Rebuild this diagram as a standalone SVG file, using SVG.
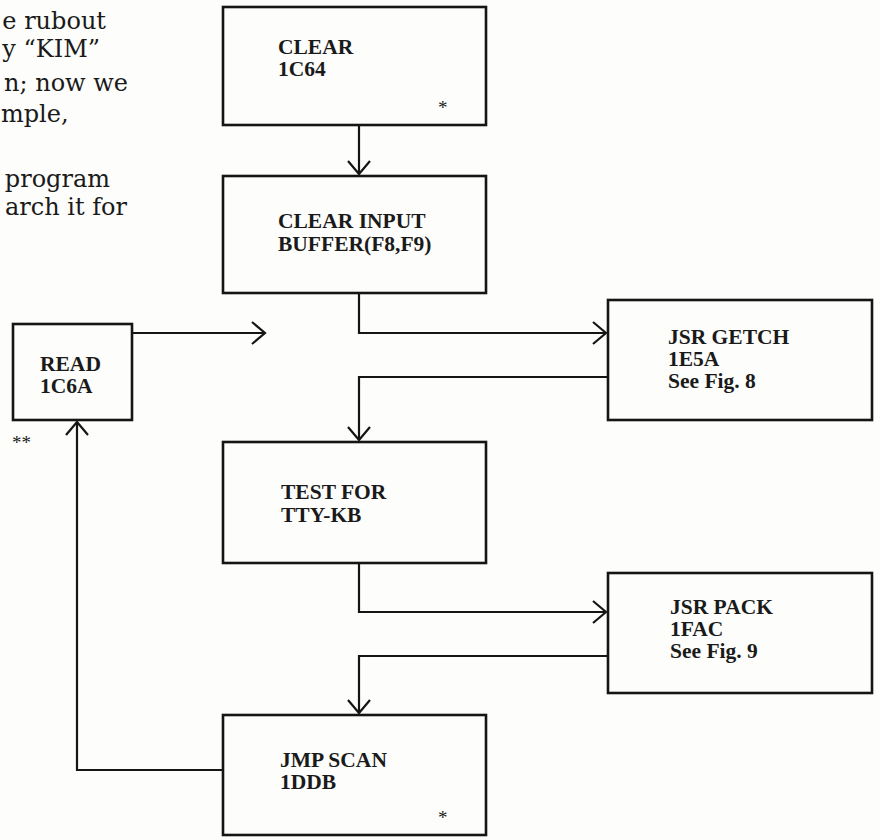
<svg xmlns="http://www.w3.org/2000/svg" width="880" height="840" viewBox="0 0 880 840">
<style>
.box{fill:none;stroke:#151515;stroke-width:2.6}
.lbl{font-family:"Liberation Serif","Times New Roman",serif;font-weight:bold;font-size:21.5px;fill:#1a1a1a}
.ast{font-family:"Liberation Serif","Times New Roman",serif;font-size:19px;fill:#1a1a1a}
.body{font-family:"DejaVu Serif","Liberation Serif",serif;font-size:24px;fill:#1a1a1a;text-anchor:end}
.con{fill:none;stroke:#151515;stroke-width:2.2}
</style>
<defs>
<marker id="arr" viewBox="-16 -14 20 28" refX="0" refY="0" markerWidth="20" markerHeight="28" markerUnits="userSpaceOnUse" orient="auto">
<path d="M-13,-11 L0,0 L-13,11" fill="none" stroke="#151515" stroke-width="2.2"/>
</marker>
</defs>
<rect width="880" height="840" fill="#fdfdfb"/>
<g id="page-text">
<text class="body" x="106" y="29">e rubout</text>
<text class="body" x="100" y="57">y “KIM”</text>
<text class="body" x="128" y="91">n; now we</text>
<text class="body" x="1" y="122" style="text-anchor:start">mple,</text>
<text class="body" x="110" y="187">program</text>
<text class="body" x="127" y="215">arch it for</text>
</g>
<g id="connectors">
<path class="con" d="M359,125 V174" marker-end="url(#arr)"/>
<path class="con" d="M359,293 V333 H606" marker-end="url(#arr)"/>
<path class="con" d="M132,333 H265" marker-end="url(#arr)"/>
<path class="con" d="M608,377 H359 V440" marker-end="url(#arr)"/>
<path class="con" d="M359,563 V612 H606" marker-end="url(#arr)"/>
<path class="con" d="M608,656 H359 V713" marker-end="url(#arr)"/>
<path class="con" d="M223,770 H77 V422" marker-end="url(#arr)"/>
</g>
<g id="clear">
<rect class="box" x="223" y="7" width="263" height="118"/>
<text class="lbl" x="278" y="54">CLEAR</text>
<text class="lbl" x="278" y="76">1C64</text>
<text class="ast" x="438" y="114">*</text>
</g>
<g id="clear-input">
<rect class="box" x="223" y="176" width="263" height="117"/>
<text class="lbl" x="278" y="228">CLEAR INPUT</text>
<text class="lbl" x="278" y="251">BUFFER(F8,F9)</text>
</g>
<g id="read">
<rect class="box" x="13" y="324" width="119" height="96"/>
<text class="lbl" x="40" y="371">READ</text>
<text class="lbl" x="40" y="393">1C6A</text>
<text class="ast" x="12" y="449">**</text>
</g>
<g id="getch">
<rect class="box" x="608" y="300" width="264" height="120"/>
<text class="lbl" x="668" y="344">JSR GETCH</text>
<text class="lbl" x="668" y="366">1E5A</text>
<text class="lbl" x="668" y="388">See Fig. 8</text>
</g>
<g id="test">
<rect class="box" x="223" y="442" width="263" height="121"/>
<text class="lbl" x="281" y="499">TEST FOR</text>
<text class="lbl" x="281" y="522">TTY-KB</text>
</g>
<g id="pack">
<rect class="box" x="608" y="573" width="264" height="120"/>
<text class="lbl" x="670" y="614">JSR PACK</text>
<text class="lbl" x="670" y="636">1FAC</text>
<text class="lbl" x="670" y="658">See Fig. 9</text>
</g>
<g id="jmp">
<rect class="box" x="223" y="715" width="263" height="120"/>
<text class="lbl" x="280" y="767">JMP SCAN</text>
<text class="lbl" x="280" y="789">1DDB</text>
<text class="ast" x="438" y="824">*</text>
</g>
</svg>
